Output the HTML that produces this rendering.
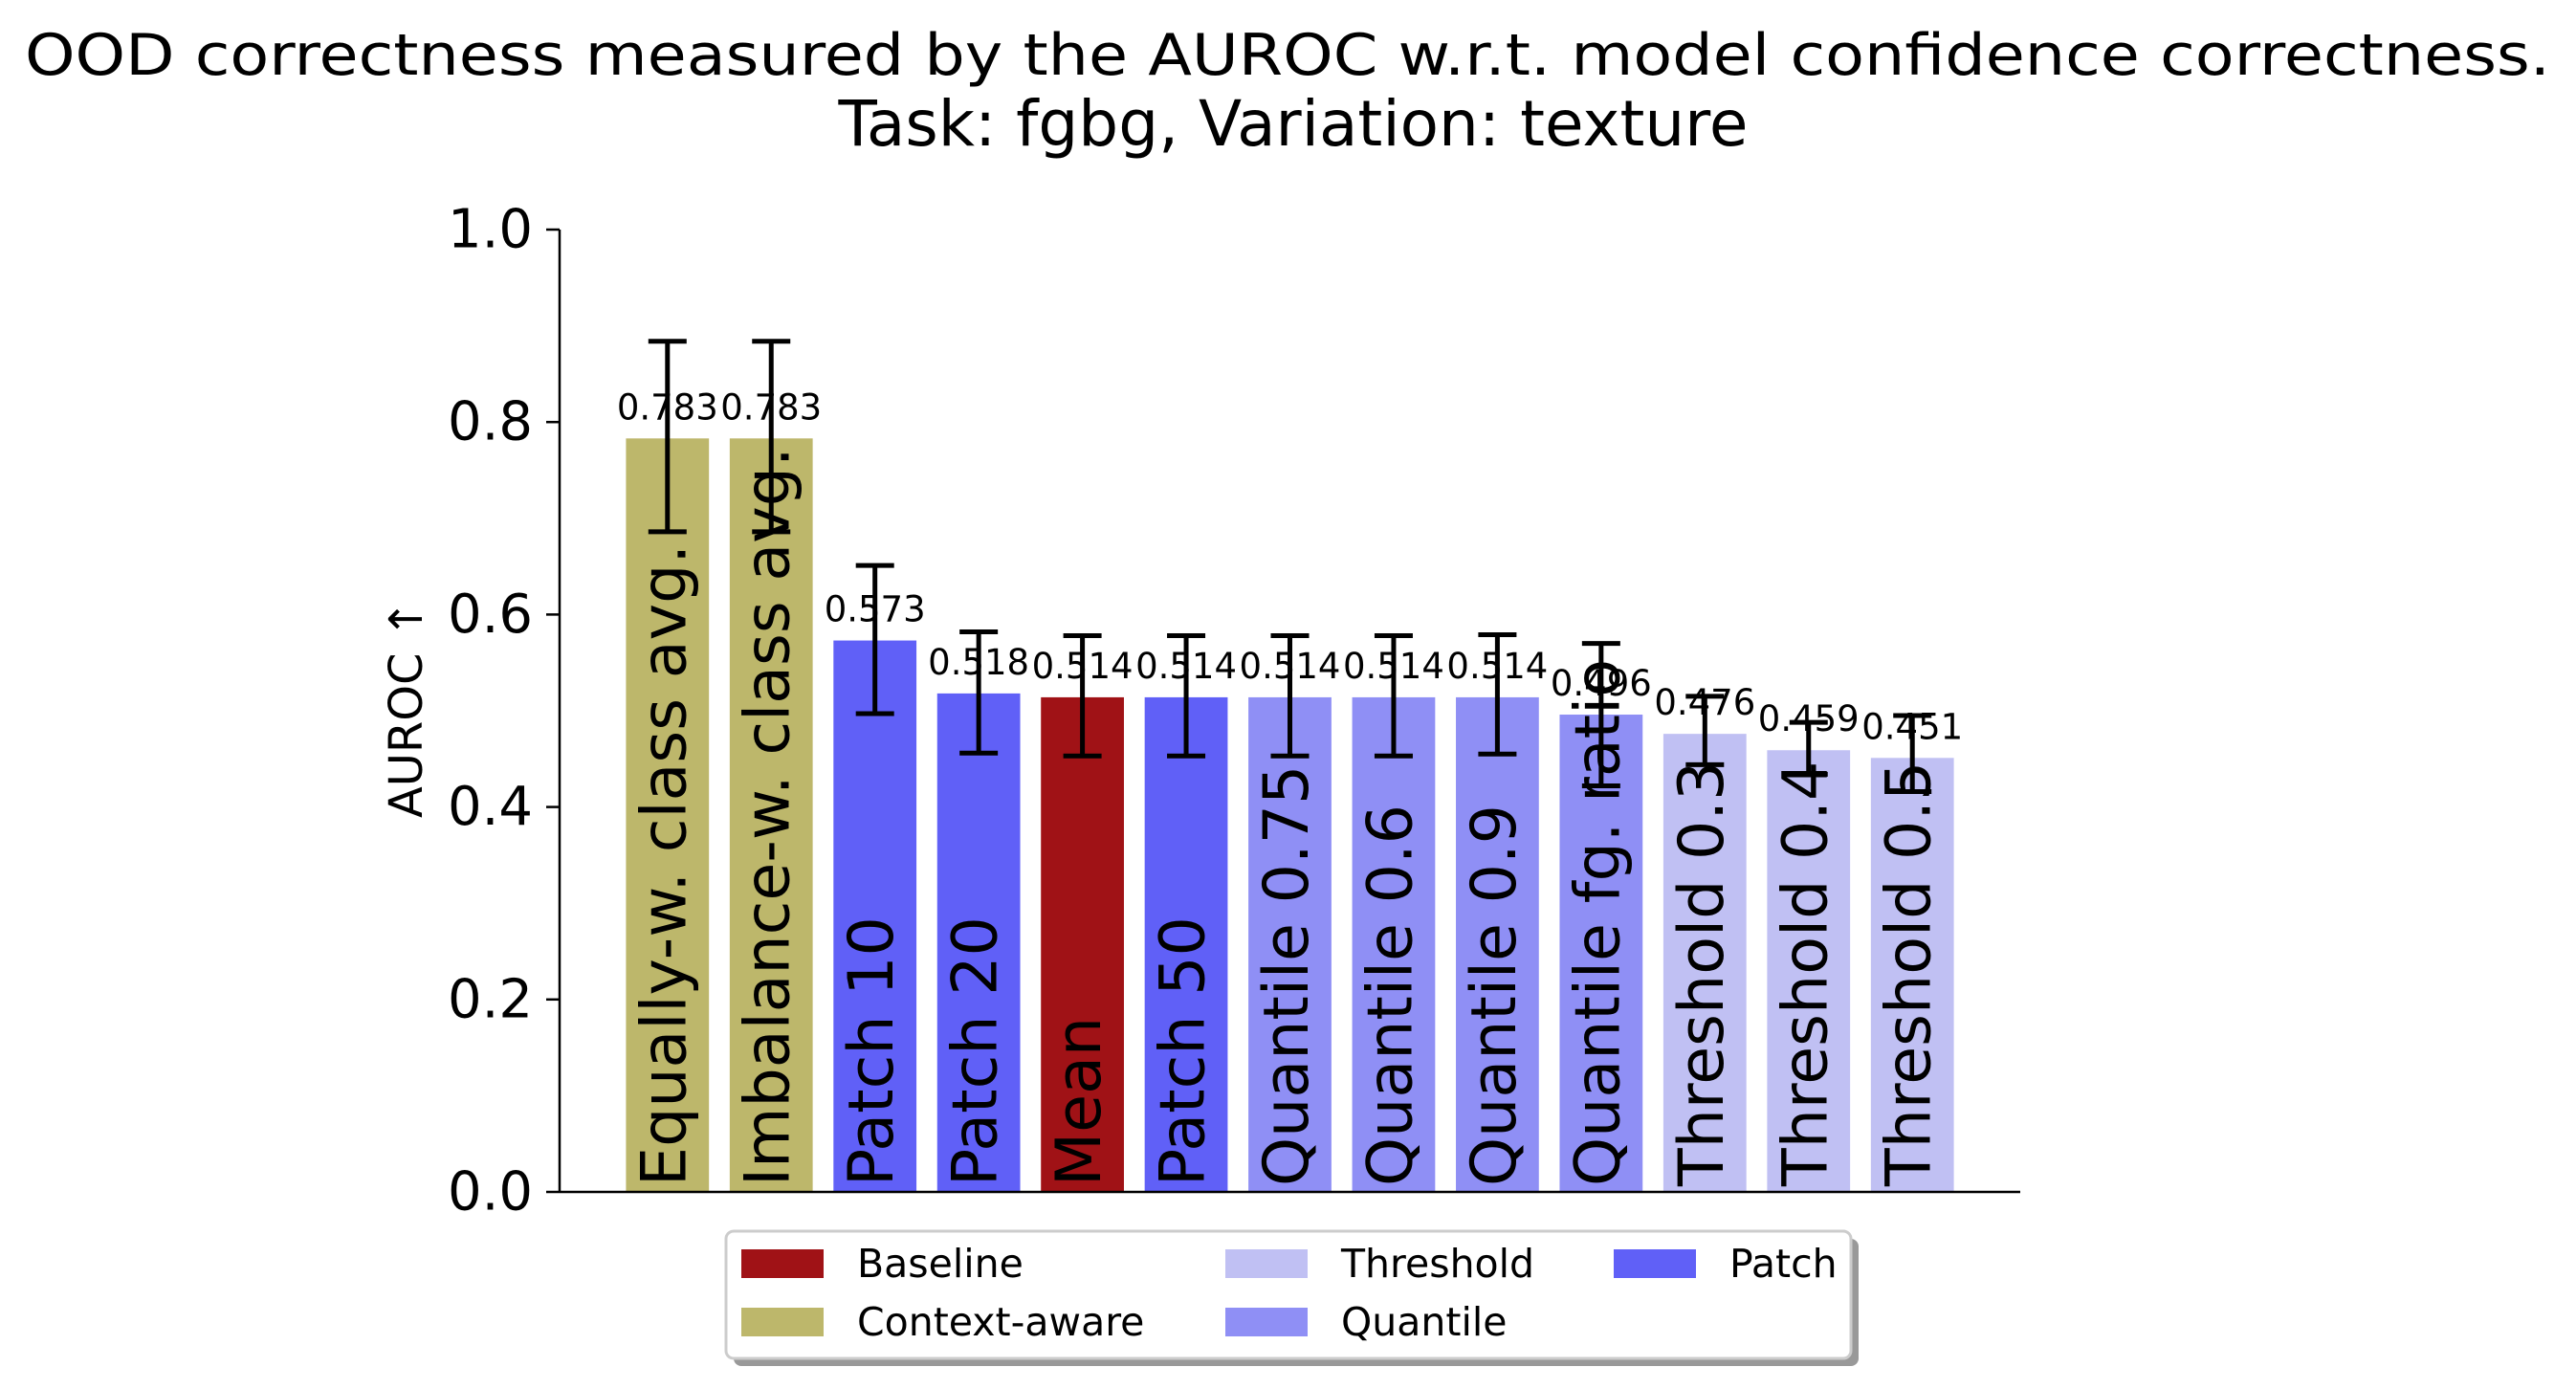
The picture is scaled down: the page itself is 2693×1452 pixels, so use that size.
<!DOCTYPE html>
<html><head><meta charset="utf-8"><style>
html,body{margin:0;padding:0;background:#fff;}
svg{display:block;font-family:"DejaVu Sans","Liberation Sans",sans-serif;}
</style></head><body>
<svg id="chart" width="2693" height="1452" viewBox="0 0 2693 1452">
<text x="1346" y="78" font-size="60" text-anchor="middle" textLength="2640" lengthAdjust="spacingAndGlyphs">OOD correctness measured by the AUROC w.r.t. model confidence correctness.</text>
<text x="1352" y="152" font-size="66" text-anchor="middle">Task: fgbg, Variation: texture</text>
<g id="bars"></g>
<g id="axes"></g>
<g>
<rect x="767" y="1295" width="1176" height="133" rx="8" fill="#999"/>
<rect x="759" y="1287" width="1176" height="133" rx="8" fill="#fff" stroke="#ccc" stroke-width="3"/>
<rect x="775" y="1306" width="86" height="30" fill="#a01216"/>
<text x="896" y="1335" font-size="41">Baseline</text>
<rect x="775" y="1367" width="86" height="30" fill="#bdb76b"/>
<text x="896" y="1396" font-size="41">Context-aware</text>
<rect x="1281" y="1306" width="86" height="30" fill="#c0c0f3"/>
<text x="1402" y="1335" font-size="41">Threshold</text>
<rect x="1281" y="1367" width="86" height="30" fill="#8f8ff5"/>
<text x="1402" y="1396" font-size="41">Quantile</text>
<rect x="1687" y="1306" width="86" height="30" fill="#6060f7"/>
<text x="1808" y="1335" font-size="41">Patch</text>
</g>
</svg>
<script>
const categories = ["Equally-w. class avg.","Imbalance-w. class avg.","Patch 10","Patch 20","Mean","Patch 50","Quantile 0.75","Quantile 0.6","Quantile 0.9","Quantile fg. ratio","Threshold 0.3","Threshold 0.4","Threshold 0.5"];
const groups = ["context","context","patch","patch","baseline","patch","quantile","quantile","quantile","quantile","threshold","threshold","threshold"];
const values = [0.783,0.783,0.573,0.518,0.514,0.514,0.514,0.514,0.514,0.496,0.476,0.459,0.451];
const errLow = [0.686,0.686,0.497,0.456,0.453,0.453,0.453,0.453,0.455,0.422,0.444,0.434,0.416];
const errHigh = [0.884,0.884,0.651,0.582,0.578,0.578,0.578,0.578,0.579,0.570,0.515,0.488,0.495];
const valueLabels = ["0.783","0.783","0.573","0.518","0.514","0.514","0.514","0.514","0.514","0.496","0.476","0.459","0.451"];
const yTicks = [0.0,0.2,0.4,0.6,0.8,1.0];
const yTickLabels = ["0.0","0.2","0.4","0.6","0.8","1.0"];

const colorMap = {context:"#bdb76b",patch:"#6060f7",baseline:"#a01216",quantile:"#8f8ff5",threshold:"#c0c0f3"};
const NS="http://www.w3.org/2000/svg";
const axL=585, axR=2112, axT=240, axB=1246;
const n=categories.length;
const xMin=-0.4-0.05*(n-0.2), xMax=(n-1)+0.4+0.05*(n-0.2);
function xs(i){return axL+(i-xMin)/(xMax-xMin)*(axR-axL);}
function ys(v){return axB-(v-0)/(1-0)*(axB-axT);}
const unit=(axR-axL)/(xMax-xMin);
const bw=0.8*unit;
function mk(tag,attrs,parent){const e=document.createElementNS(NS,tag);for(const k in attrs)e.setAttribute(k,attrs[k]);parent.appendChild(e);return e;}
const gb=document.getElementById('bars');
const ga=document.getElementById('axes');
for(let i=0;i<n;i++){
  const cx=xs(i);
  const r=mk('rect',{x:cx-bw/2,y:ys(values[i]),width:bw,height:ys(0)-ys(values[i]),fill:colorMap[groups[i]]},gb);
  
  
  const t=mk('text',{x:0,y:0,'font-size':'65','dominant-baseline':'central',transform:`translate(${cx-3},${axB-6}) rotate(-90)`},gb);
  t.textContent=categories[i];
  
  
}
for(let i=0;i<n;i++){
  const cx=xs(i);
  const v=mk('text',{x:cx,y:ys(values[i])-20,'font-size':'37','text-anchor':'middle'},gb);
  v.textContent=valueLabels[i];
  
  
}
for(let i=0;i<n;i++){
  const cx=xs(i);
  const g=mk('g',{stroke:'#000','stroke-width':'5'},gb);
  
  
  mk('line',{x1:cx,x2:cx,y1:ys(errLow[i]),y2:ys(errHigh[i])},g);
  mk('line',{x1:cx-20,x2:cx+20,y1:ys(errLow[i]),y2:ys(errLow[i])},g);
  mk('line',{x1:cx-20,x2:cx+20,y1:ys(errHigh[i]),y2:ys(errHigh[i])},g);
}
const yl=mk('line',{x1:axL,x2:axL,y1:axT,y2:axB,stroke:'#000','stroke-width':'2.5'},ga);


const xl=mk('line',{x1:axL,x2:axR,y1:axB,y2:axB,stroke:'#000','stroke-width':'2.5'},ga);


for(let k=0;k<yTicks.length;k++){
  const y=ys(yTicks[k]);
  const tk=mk('line',{x1:axL-14,x2:axL,y1:y,y2:y,stroke:'#000','stroke-width':'2.5'},ga);
  
  
  const tl=mk('text',{x:axL-28,y:y,'font-size':'56','text-anchor':'end','dominant-baseline':'central'},ga);
  tl.textContent=yTickLabels[k];
  
  
}
const yt=mk('text',{x:0,y:0,'font-size':'48','text-anchor':'middle','dominant-baseline':'central',transform:`translate(425,${(axT+axB)/2-2}) rotate(-90)`},ga);
yt.textContent='AUROC ↑';


</script>
</body></html>
